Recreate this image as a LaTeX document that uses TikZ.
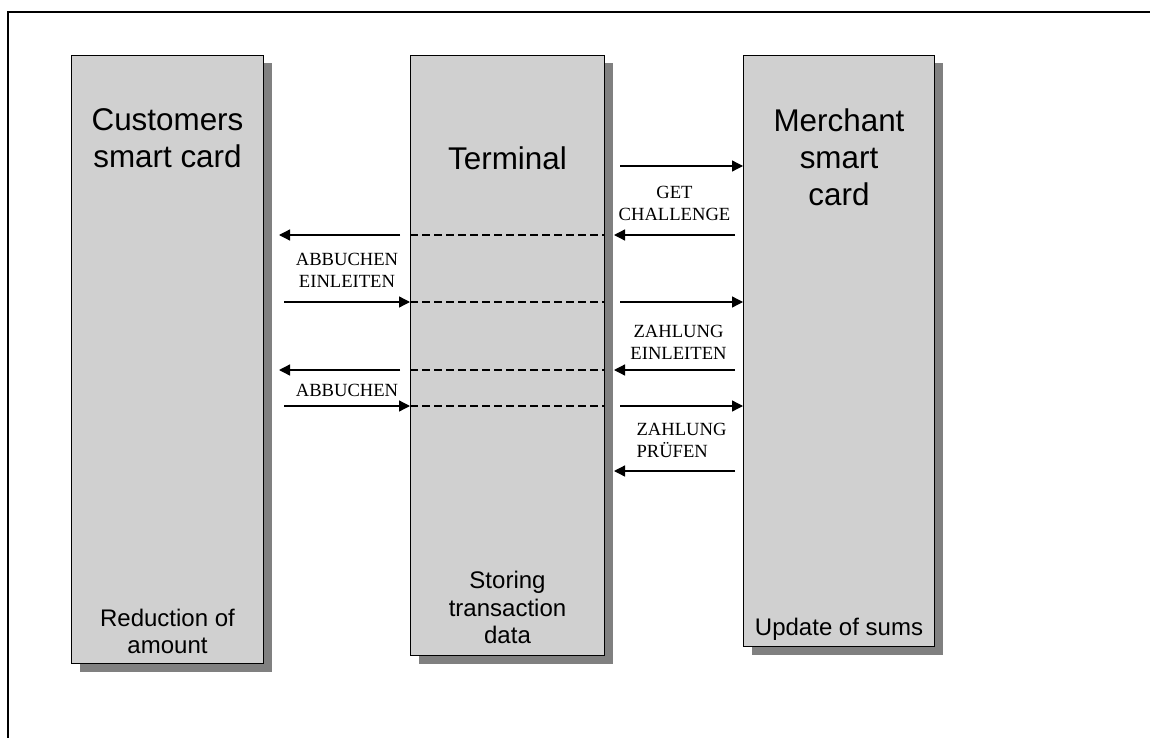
\documentclass[tikz,border=0pt]{standalone}
\usepackage{fontspec}
\setmainfont{Liberation Serif}
\setsansfont{Liberation Sans}
\usetikzlibrary{arrows.meta,positioning,shadows}
\definecolor{cardgray}{HTML}{D0D0D0}
\definecolor{shadowgray}{HTML}{808080}
\tikzset{
  cardbox/.style={
    rectangle, draw=black, fill=cardgray, line width=0.5pt,
    minimum width=96pt, minimum height=#1, inner sep=0pt,
    drop shadow={shadow xshift=4pt, shadow yshift=-4pt,
                 fill=shadowgray, opacity=1}
  },
  cardbox/.default=300pt,
  titletext/.style={
    font=\sffamily\fontsize{15.7}{18.5}\selectfont,
    align=center, inner sep=0pt
  },
  foottext/.style={
    font=\sffamily\fontsize{12}{13.8}\selectfont,
    align=center, inner sep=0pt, text depth=0pt
  },
  cmdlabel/.style={
    font=\fontsize{9.3}{11}\selectfont, align=center, inner sep=0pt
  },
  msgarrow/.style={
    -{Triangle[length=5.5pt, width=5.5pt]}, line width=0.65pt
  },
  passline/.style={dash pattern=on 4pt off 2pt, line width=0.9pt},
  framerule/.style={line width=1pt},
}

\begin{document}
\begin{tikzpicture}[x=0.5pt, y=-0.5pt]
  \useasboundingbox (0,0) rectangle (1150,738);
  % Frame
  \coordinate (frameNE) at (1150,12);
  \coordinate (frameNW) at (8,12);
  \coordinate (frameSW) at (8,738);
  \draw[framerule] (frameNE) -- (frameNW) -- (frameSW);
  % Cards
  \node[cardbox=304pt, anchor=north west] (cust) at (71,55) {};
  \node[cardbox=300pt, minimum width=97pt,
        right=73pt of cust.north east, anchor=north west] (term) {};
  \node[cardbox=295.5pt, minimum width=95.5pt,
        right=69pt of term.north east, anchor=north west] (merch) {};
  \node[titletext, below=26.5pt of cust.north] (custTitle) {Customers\\smart card};
  \node[titletext, below=45.5pt of term.north] (termTitle) {Terminal};
  \node[titletext, below=26.5pt of merch.north] (merchTitle) {Merchant\\smart\\card};
  \node[foottext, above=5pt of cust.south] (custFoot) {Reduction of\\amount};
  \node[foottext, above=6pt of term.south] (termFoot) {Storing\\transaction\\data};
  \node[foottext, above=5.5pt of merch.south] (merchFoot) {Update of sums};
  % Message rows
  \coordinate (r1) at (0,166);
  \coordinate (r2) at (0,235);
  \coordinate (r3) at (0,302);
  \coordinate (r4) at (0,370);
  \coordinate (r5) at (0,406);
  \coordinate (r6) at (0,471);
  \foreach \r in {r2,r3,r4,r5}
    \draw[passline] (term.west |- \r) -- (term.east |- \r);
  % GET CHALLENGE
  \draw[msgarrow] ([xshift=7.5pt]term.east |- r1) -- (merch.west |- r1);
  \draw[msgarrow] ([xshift=-4pt]merch.west |- r2)
    -- node[cmdlabel, above=7pt] (getLbl) {GET\\CHALLENGE}
    ([xshift=4.5pt]term.east |- r2);
  \draw[msgarrow] ([xshift=-5pt]term.west |- r2) -- ([xshift=7.5pt]cust.east |- r2);
  % ABBUCHEN EINLEITEN
  \draw[msgarrow] ([xshift=10pt]cust.east |- r3)
    -- node[cmdlabel, above=7pt] (startLbl) {ABBUCHEN\\EINLEITEN}
    (term.west |- r3);
  \draw[msgarrow] ([xshift=7.5pt]term.east |- r3) -- (merch.west |- r3);
  % ZAHLUNG EINLEITEN
  \draw[msgarrow] ([xshift=-4pt]merch.west |- r4)
    -- node[cmdlabel, above=5pt, xshift=2pt] (payLbl) {ZAHLUNG\\EINLEITEN}
    ([xshift=4.5pt]term.east |- r4);
  \draw[msgarrow] ([xshift=-5pt]term.west |- r4) -- ([xshift=7.5pt]cust.east |- r4);
  % ABBUCHEN
  \draw[msgarrow] ([xshift=10pt]cust.east |- r5)
    -- node[cmdlabel, above=4.5pt] (debitLbl) {ABBUCHEN}
    (term.west |- r5);
  \draw[msgarrow] ([xshift=7.5pt]term.east |- r5) -- (merch.west |- r5);
  % ZAHLUNG PRUEFEN
  \draw[msgarrow] ([xshift=-4pt]merch.west |- r6)
    -- node[cmdlabel, above=6.5pt, align=left, xshift=3.5pt] (checkLbl) {ZAHLUNG\\PRÜFEN}
    ([xshift=4.5pt]term.east |- r6);
\end{tikzpicture}
\end{document}
